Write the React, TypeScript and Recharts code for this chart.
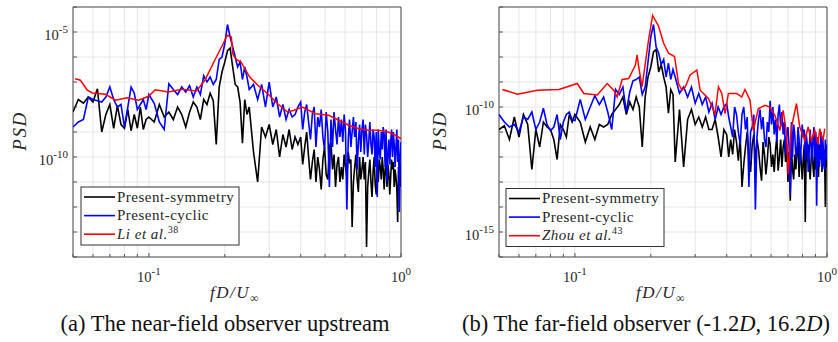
import React from 'react';
import {
  LineChart,
  Line,
  XAxis,
  YAxis,
  CartesianGrid,
  ReferenceArea,
} from 'recharts';

const FONT = '"Liberation Serif", "Times New Roman", serif';

// frequency grid shared by the present-symmetry / present-cyclic spectra (fD/U)
const freq = [
  0.05, 0.0525, 0.055, 0.0575, 0.06, 0.0625, 0.065, 0.0675, 0.07, 0.0725,
  0.075, 0.0775, 0.08, 0.0825, 0.085, 0.0875, 0.09, 0.0925, 0.095, 0.0975,
  0.1, 0.105, 0.11, 0.115, 0.12, 0.125, 0.13, 0.135, 0.14, 0.145,
  0.15, 0.155, 0.16, 0.165, 0.17, 0.175, 0.18, 0.185, 0.19, 0.195,
  0.2, 0.205, 0.21, 0.215, 0.22, 0.225, 0.23, 0.235, 0.24, 0.245,
  0.25, 0.26, 0.27, 0.28, 0.29, 0.3, 0.31, 0.32, 0.33, 0.34, 0.35, 0.36, 0.37, 0.38, 0.39,
  0.4, 0.4075, 0.415, 0.4225, 0.43, 0.4375, 0.445, 0.4525, 0.46, 0.4675,
  0.475, 0.4825, 0.49, 0.4975, 0.505, 0.5125, 0.52, 0.5275, 0.535, 0.5425,
  0.55, 0.5575, 0.565, 0.5725, 0.58, 0.5875, 0.595, 0.6025, 0.61, 0.6175,
  0.625, 0.6325, 0.64, 0.6475, 0.655, 0.6625, 0.67, 0.6775, 0.685, 0.6925,
  0.7, 0.7075, 0.715, 0.7225, 0.73, 0.7375, 0.745, 0.7525, 0.76, 0.7675,
  0.775, 0.7825, 0.79, 0.7975, 0.805, 0.8125, 0.82, 0.8275, 0.835, 0.8425,
  0.85, 0.8575, 0.865, 0.8725, 0.88, 0.8875, 0.895, 0.9025, 0.91, 0.9175,
  0.925, 0.9325, 0.94, 0.9475, 0.955, 0.9625, 0.97, 0.9775, 0.985, 0.9925, 1.0,
];

// PSD values stored as log10 exponents
// (a) near-field observer upstream
const nearSymmetry = [
  -8.2, -7.7, -7.85, -7.6, -7.8, -7.27, -9.0, -8.3, -7.9, -8.85,
  -7.95, -8.7, -8.85, -8.1, -8.95, -8.3, -8.85, -8.0, -8.9, -8.5,
  -8.4, -8.6, -7.9, -8.4, -8.2, -8.5, -8.0, -8.3, -8.8, -8.2,
  -7.8, -8.0, -8.5, -7.7, -7.9, -7.45, -7.75, -9.5, -7.2, -6.6,
  -6.2, -5.75, -5.65, -6.4, -7.1, -7.2, -7.8, -9.45, -7.7, -8.3,
  -8.0, -9.8, -11.0, -8.8, -9.2, -8.7, -9.5, -8.9, -10.0, -9.1, -9.6, -8.9, -9.7, -9.2, -9.5,
  -9.2, -10.3, -9.6, -9.0, -10.0, -10.9, -10.2, -9.7, -11.0, -10.0,
  -10.5, -11.3, -10.1, -9.6, -10.7, -10.9, -9.6, -9.4, -10.5, -9.9,
  -11.2, -10.3, -10.0, -11.0, -10.4, -10.9, -9.9, -10.4, -10.8, -9.8,
  -10.2, -10.1, -12.8, -11.0, -10.4, -9.9, -10.9, -11.4, -10.0, -10.9,
  -10.5, -10.0, -10.9, -10.2, -13.6, -11.2, -10.6, -10.1, -11.0, -11.6,
  -10.6, -10.0, -11.1, -11.5, -10.2, -11.0, -10.1, -10.4, -10.9, -10.0,
  -10.5, -11.3, -10.5, -10.2, -11.2, -10.3, -10.7, -11.5, -10.8, -10.1,
  -10.5, -10.2, -11.2, -10.5, -10.8, -11.3, -12.6, -10.4, -11.0, -10.3, -11.2,
];
const nearCyclic = [
  -8.8, -8.6, -8.5, -7.6, -7.7, -7.75, -7.8, -7.6, -7.2, -7.7,
  -8.0, -7.9, -8.8, -8.0, -7.2, -7.45, -8.1, -7.9, -7.7, -8.1,
  -7.5, -7.85, -8.6, -8.9, -7.07, -7.3, -7.5, -7.2, -7.4, -7.15,
  -7.6, -7.2, -7.5, -6.75, -7.0, -6.8, -7.1, -6.9, -6.1, -6.0,
  -5.47, -4.7, -5.2, -5.6, -6.0, -6.4, -6.2, -6.9, -6.4, -6.8,
  -7.3, -7.1, -7.7, -7.1, -8.0, -7.0, -8.0, -7.6, -8.4, -7.9, -8.5, -8.1, -8.4, -8.3, -8.0,
  -7.8, -8.9, -8.2, -7.9, -8.6, -9.3, -8.3, -8.0, -9.6, -8.4,
  -8.8, -8.1, -9.2, -9.7, -8.2, -9.0, -11.2, -8.5, -9.6, -8.2,
  -8.9, -9.5, -8.4, -9.2, -8.5, -9.4, -8.3, -9.0, -12.1, -9.3,
  -8.5, -9.6, -9.0, -8.4, -9.2, -8.6, -10.5, -9.4, -8.7, -9.8,
  -8.9, -8.5, -9.9, -8.7, -9.1, -10.0, -9.4, -8.6, -9.5, -9.9,
  -8.9, -9.2, -10.4, -9.0, -11.6, -8.9, -9.8, -10.1, -9.0, -9.7,
  -8.8, -9.1, -10.4, -8.9, -11.0, -9.9, -9.3, -10.3, -9.4, -8.9,
  -10.0, -9.0, -9.5, -10.4, -9.6, -8.9, -10.2, -9.3, -12.2, -10.0, -9.4,
];
const liFreq = [
  0.051, 0.0535, 0.057, 0.0597, 0.0673, 0.0737, 0.0819, 0.091, 0.0997, 0.106,
  0.1195, 0.135, 0.1545, 0.1667, 0.1825, 0.197, 0.2047, 0.2123, 0.2155, 0.222,
  0.232, 0.251, 0.2705, 0.296, 0.324, 0.355, 0.377, 0.406, 0.458, 0.517,
  0.566, 0.62, 0.68, 0.743, 0.812, 0.89, 0.95, 1.0,
];
const liPsd = [
  -6.87, -6.93, -7.33, -7.44, -7.49, -7.73, -7.63, -7.73, -7.57, -7.31,
  -7.4, -7.29, -7.36, -6.93, -6.13, -5.47, -5.13, -5.2, -5.9, -6.1,
  -6.2, -6.8, -7.13, -7.47, -7.87, -8.2, -8.13, -8.0, -8.27, -8.33,
  -8.53, -8.73, -8.87, -8.93, -8.93, -9.0, -9.13, -9.27,
];

// (b) far-field observer
const farSymmetry = [
  -10.9, -10.75, -11.3, -10.4, -11.2, -10.3, -10.7, -12.5, -10.9, -11.6,
  -10.6, -10.8, -10.9, -11.3, -12.1, -10.7, -10.9, -11.2, -10.3, -10.6,
  -10.3, -10.6, -11.4, -10.8, -11.3, -10.7, -10.8, -10.7, -10.3, -10.1,
  -9.9, -9.6, -10.3, -9.8, -10.1, -9.6, -10.0, -11.6, -9.6, -8.8,
  -8.4, -7.8, -7.7, -8.6, -8.3, -8.8, -9.2, -10.25, -9.3, -9.5,
  -12.2, -10.1, -12.4, -10.5, -10.1, -10.7, -10.4, -10.8, -10.4, -10.9, -10.9, -10.5, -11.2, -12.0, -10.9,
  -11.1, -12.0, -11.3, -11.9, -10.9, -11.4, -12.15, -11.2, -13.2, -12.3,
  -11.6, -11.0, -12.0, -12.6, -11.5, -11.1, -12.3, -11.3, -11.7, -12.4,
  -12.95, -11.4, -11.9, -12.7, -12.1, -11.2, -11.5, -12.4, -11.9, -12.6,
  -11.7, -11.2, -12.55, -12.0, -11.3, -12.4, -11.6, -11.3, -12.2, -11.5,
  -13.0, -11.8, -13.75, -11.6, -12.5, -12.9, -11.9, -12.5, -11.8, -11.4,
  -12.8, -11.6, -12.2, -12.9, -12.1, -11.5, -14.6, -11.6, -12.2, -11.5,
  -12.3, -12.9, -12.1, -11.4, -12.4, -12.8, -11.75, -12.5, -11.8, -11.4,
  -12.8, -11.5, -12.1, -11.6, -12.6, -11.5, -12.2, -11.7, -14.0, -11.6, -12.4,
];
const farCyclic = [
  -10.3, -10.6, -10.8, -10.7, -11.0, -10.4, -10.5, -10.2, -10.9, -10.6,
  -10.05, -10.7, -10.95, -10.8, -10.3, -11.3, -10.6, -10.3, -10.2, -10.5,
  -10.55, -9.7, -10.5, -10.0, -9.55, -9.9, -9.6, -10.2, -10.9, -9.3,
  -9.5, -9.2, -10.2, -9.4, -8.95, -8.9, -8.8, -9.5, -9.2, -8.2,
  -7.2, -6.7, -7.6, -7.85, -8.3, -8.1, -8.8, -8.25, -8.9, -8.5,
  -8.8, -9.45, -9.2, -9.6, -9.2, -9.85, -9.46, -9.9, -9.6, -10.2, -9.85, -10.5, -10.0, -10.3, -10.0,
  -9.86, -10.4, -10.8, -11.2, -10.0, -10.3, -11.0, -11.5, -10.3, -10.0,
  -10.9, -10.4, -13.2, -11.0, -10.8, -10.3, -14.1, -11.2, -10.5, -10.1,
  -10.9, -10.4, -11.3, -11.6, -10.6, -11.0, -9.75, -10.7, -10.0, -11.1,
  -10.5, -11.4, -10.3, -9.9, -10.8, -10.2, -11.1, -10.6, -11.9, -11.1,
  -10.8, -11.6, -13.5, -10.6, -12.0, -10.7, -11.1, -12.0, -11.8, -10.8,
  -11.3, -12.3, -11.5, -10.7, -11.2, -10.9, -12.1, -11.1, -11.5, -12.6,
  -11.75, -10.9, -11.6, -12.2, -11.3, -10.8, -12.0, -11.0, -13.95, -11.2,
  -11.9, -12.4, -11.6, -11.0, -12.5, -11.2, -12.3, -12.5, -11.3, -12.1, -11.5,
];
const zhouFreq = [
  0.0516, 0.0592, 0.071, 0.0865, 0.1022, 0.1085, 0.1226, 0.1343, 0.1426, 0.1471,
  0.154, 0.1635, 0.1738, 0.1765, 0.179, 0.1847, 0.1903, 0.196, 0.2034, 0.2148,
  0.2247, 0.2352, 0.2485, 0.2577, 0.2658, 0.2739, 0.2866, 0.3046, 0.314, 0.3236,
  0.3386, 0.3598, 0.371, 0.3825, 0.3943, 0.4062, 0.4385, 0.4589, 0.4729, 0.495,
  0.5101, 0.5338, 0.5673, 0.5936, 0.6213, 0.6502, 0.6699, 0.6914, 0.7016, 0.7233,
  0.7568, 0.7798, 0.8166, 0.8414, 0.8678, 0.8943, 0.9214, 0.9357, 0.9643, 0.9793,
];
const zhouPsd = [
  -9.3, -9.49, -9.33, -9.3, -9.06, -9.46, -9.52, -9.06, -9.33, -9.6,
  -8.9, -8.86, -8.32, -7.91, -8.38, -9.19, -8.25, -7.31, -6.34, -6.77,
  -7.44, -7.85, -7.98, -9.06, -9.33, -9.2, -8.72, -8.52, -9.33, -9.46,
  -9.66, -10.27, -9.19, -9.46, -10.27, -9.46, -9.46, -9.6, -9.3, -9.73,
  -10.94, -10.07, -9.93, -10.0, -10.33, -10.94, -10.13, -11.07, -12.69, -10.8,
  -9.86, -10.8, -11.34, -10.8, -11.34, -10.94, -11.48, -10.87, -11.34, -10.87,
];

const xTicks = [0.05, 0.06, 0.07, 0.08, 0.09, 0.1, 0.2, 0.3, 0.4, 0.5, 0.6, 0.7, 0.8, 0.9, 1];
const nearYTicks = [1e-14, 1e-13, 1e-12, 1e-11, 1e-10, 1e-9, 1e-8, 1e-7, 1e-6, 1e-5, 1e-4];
const farYTicks = [1e-16, 1e-15, 1e-14, 1e-13, 1e-12, 1e-11, 1e-10, 1e-9, 1e-8, 1e-7, 1e-6];

const toPoints = (fs: number[], ex: number[]) =>
  fs.map((f, i) => ({ f, psd: Math.pow(10, ex[i]) }));

const PowTick = (props: any) => {
  const { x, y, payload, show, axis } = props;
  const lg = Math.log10(payload.value);
  const e = Math.round(lg);
  const isDecade = Math.abs(lg - e) < 1e-6;
  const mark =
    axis === 'x' ? (
      <line x1={x} x2={x} y1={y} y2={y - (isDecade ? 4 : 3)} stroke="#555" />
    ) : (
      <line x1={x + 5} x2={x + 9} y1={y} y2={y} stroke="#555" />
    );
  if (!isDecade || !show.includes(e)) return <g>{mark}</g>;
  const sup = e < 0 ? `-${-e}` : `${e}`;
  return (
    <g>
      {mark}
      <text
        x={x}
        y={axis === 'x' ? y + 25 : y + 8}
        textAnchor={axis === 'x' ? 'middle' : 'end'}
        fontFamily={FONT}
        fontSize={14.5}
        fill="#262626"
      >
        <tspan>10</tspan>
        <tspan dy={-7} fontSize={11}>
          {sup}
        </tspan>
      </text>
    </g>
  );
};

type PanelProps = {
  left: number;
  width: number;
  yWidth: number;
  marginRight: number;
  yDomain: [number, number];
  yTicks: number[];
  yShow: number[];
  symmetry: number[];
  cyclic: number[];
  refFreq: number[];
  refPsd: number[];
};

function Panel(p: PanelProps) {
  return (
    <div style={{ position: 'absolute', left: p.left, top: 0 }}>
      <LineChart
        width={p.width}
        height={342}
        margin={{ top: 7, right: p.marginRight, bottom: 55, left: 0 }}
      >
        <CartesianGrid stroke="#e6e6e6" strokeWidth={1} />
        <XAxis
          type="number"
          dataKey="f"
          scale="log"
          domain={[0.05, 1]}
          allowDataOverflow
          ticks={xTicks}
          interval={0}
          height={30}
          tickSize={0}
          tickMargin={0}
          axisLine={false}
          tickLine={false}
          tick={(t: any) => <PowTick {...t} axis="x" show={[-1, 0]} />}
          label={{
            content: (lp: any) => {
              const vb = lp.viewBox;
              return (
                <text
                  x={vb.x + vb.width / 2 - 2}
                  y={vb.y + 41}
                  textAnchor="middle"
                  fontFamily={FONT}
                  fontStyle="italic"
                  fontSize={17}
                  letterSpacing={1.5}
                  fill="#262626"
                >
                  fD/U
                  <tspan dy={4} fontSize={12} fontStyle="normal">
                    ∞
                  </tspan>
                </text>
              );
            },
          }}
        />
        <YAxis
          type="number"
          scale="log"
          domain={p.yDomain}
          allowDataOverflow
          ticks={p.yTicks}
          interval={0}
          width={p.yWidth}
          tickSize={0}
          tickMargin={5}
          axisLine={false}
          tickLine={false}
          tick={(t: any) => <PowTick {...t} axis="y" show={p.yShow} />}
          label={{
            content: (lp: any) => {
              const vb = lp.viewBox;
              const cx = 19;
              const cy = vb.y + vb.height / 2 - 1;
              return (
                <text
                  x={cx}
                  y={cy}
                  transform={`rotate(-90 ${cx} ${cy})`}
                  textAnchor="middle"
                  dominantBaseline="central"
                  fontFamily={FONT}
                  fontStyle="italic"
                  fontSize={19}
                  letterSpacing={1.5}
                  fill="#262626"
                >
                  PSD
                </text>
              );
            },
          }}
        />
        <Line
          data={toPoints(freq, p.symmetry)}
          dataKey="psd"
          stroke="#000000"
          strokeWidth={1.6}
          dot={false}
          isAnimationActive={false}
        />
        <Line
          data={toPoints(freq, p.cyclic)}
          dataKey="psd"
          stroke="#0000ff"
          strokeWidth={1.6}
          dot={false}
          isAnimationActive={false}
        />
        <Line
          data={toPoints(p.refFreq, p.refPsd)}
          dataKey="psd"
          stroke="#ff0000"
          strokeWidth={1.5}
          dot={false}
          isAnimationActive={false}
        />
        <ReferenceArea
          x1={0.05}
          x2={1}
          y1={p.yDomain[0]}
          y2={p.yDomain[1]}
          fill="none"
          stroke="#4d4d4d"
          strokeWidth={1}
          ifOverflow="visible"
        />
      </LineChart>
    </div>
  );
}

function LegendBox({
  x,
  y,
  refName,
  refNo,
}: {
  x: number;
  y: number;
  refName: string;
  refNo: string;
}) {
  const rows = [
    { color: '#000000', text: 'Present-symmetry' },
    { color: '#0000ff', text: 'Present-cyclic' },
    { color: '#ff0000', text: '' },
  ];
  return (
    <g>
      <rect x={x} y={y} width={158} height={58} fill="#fff" stroke="#333" strokeWidth={1} />
      {rows.map((r, i) => {
        const ry = y + 10 + i * 18.6;
        return (
          <g key={i}>
            <line x1={x + 3} x2={x + 34} y1={ry} y2={ry} stroke={r.color} strokeWidth={1.6} />
            <text
              x={x + 36}
              y={ry + 4.5}
              fontFamily={FONT}
              fontSize={15}
              letterSpacing={0.5}
              fill="#262626"
            >
              {r.text ? (
                r.text
              ) : (
                <>
                  <tspan fontStyle="italic">{refName}</tspan>
                  <tspan dy={-6} fontSize={10}>
                    {refNo}
                  </tspan>
                </>
              )}
            </text>
          </g>
        );
      })}
    </g>
  );
}

export default function App() {
  return (
    <div
      style={{
        position: 'absolute',
        left: 0,
        top: 0,
        width: 838,
        height: 342,
        background: '#fff',
        overflow: 'hidden',
      }}
    >
      <Panel
        left={0}
        width={420}
        yWidth={73}
        marginRight={19}
        yDomain={[1e-14, 1e-4]}
        yTicks={nearYTicks}
        yShow={[-5, -10]}
        symmetry={nearSymmetry}
        cyclic={nearCyclic}
        refFreq={liFreq}
        refPsd={liPsd}
      />
      <Panel
        left={420}
        width={418}
        yWidth={79}
        marginRight={11}
        yDomain={[1e-16, 1e-6]}
        yTicks={farYTicks}
        yShow={[-10, -15]}
        symmetry={farSymmetry}
        cyclic={farCyclic}
        refFreq={zhouFreq}
        refPsd={zhouPsd}
      />
      <svg
        width={838}
        height={342}
        style={{ position: 'absolute', left: 0, top: 0, pointerEvents: 'none' }}
      >
        <LegendBox x={81} y={187} refName="Li et al." refNo="38" />
        <LegendBox x={506} y={188.5} refName="Zhou et al." refNo="43" />
        <text x={225} y={331} textAnchor="middle" fontFamily={FONT} fontSize={22.5} fill="#111">
          (a) The near-field observer upstream
        </text>
        <text x={646} y={331} textAnchor="middle" fontFamily={FONT} fontSize={22.5} fill="#111">
          (b) The far-field observer (-1.2<tspan fontStyle="italic">D</tspan>, 16.2
          <tspan fontStyle="italic">D</tspan>)
        </text>
      </svg>
    </div>
  );
}
